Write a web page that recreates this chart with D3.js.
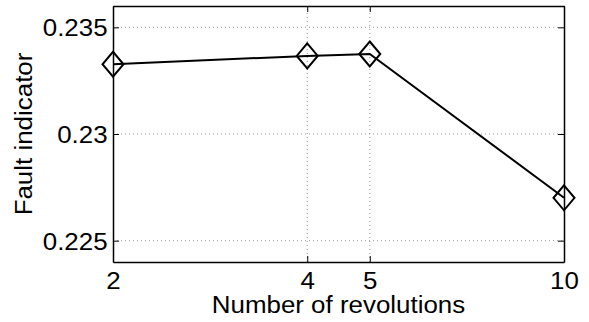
<!DOCTYPE html>
<html>
<head>
<meta charset="utf-8">
<script src="https://cdn.jsdelivr.net/npm/d3@7"></script>
<style>
body { margin: 0; background: #fff; }
text { font-family: "Liberation Sans", Arial, sans-serif; fill: #000; }
</style>
</head>
<body>
<div id="chart"></div>
<script>
var revolutions = [2, 4, 5, 10];
var faultIndicator = [0.23327, 0.23366, 0.23375, 0.22701];
var xTicks = [2, 4, 5, 10];
var yTicks = [0.225, 0.23, 0.235];

var width = 589, height = 322;
var margin = {top: 6, right: 25, bottom: 60, left: 113};
var fs = 24, sx = 1.08;

var svg = d3.select("#chart").append("svg")
  .attr("width", width)
  .attr("height", height);

var x = d3.scaleLog().domain([2, 10]).range([margin.left, width - margin.right]);
var y = d3.scaleLinear().domain([0.224, 0.236]).range([height - margin.bottom, margin.top]);

var x0 = x.range()[0], x1 = x.range()[1], y0 = y.range()[0], y1 = y.range()[1];

// grid
svg.append("g").selectAll("line").data(yTicks).enter().append("line")
  .attr("x1", x0).attr("x2", x1)
  .attr("y1", function(d){ return y(d); }).attr("y2", function(d){ return y(d); })
  .attr("stroke", "#999").attr("stroke-width", 1).attr("stroke-dasharray", "1,3");
svg.append("g").selectAll("line").data(xTicks.slice(1, -1)).enter().append("line")
  .attr("y1", y0).attr("y2", y1)
  .attr("x1", function(d){ return x(d); }).attr("x2", function(d){ return x(d); })
  .attr("stroke", "#999").attr("stroke-width", 1).attr("stroke-dasharray", "1,3");

// axes, inward ticks on all four sides
var tk = 6;
var ax = [
  {g: d3.axisBottom(x).tickValues(xTicks).tickFormat(d3.format("d")), t: "translate(0," + y0 + ")"},
  {g: d3.axisTop(x).tickValues(xTicks).tickFormat(""), t: "translate(0," + y1 + ")"},
  {g: d3.axisLeft(y).tickValues(yTicks).tickFormat(d3.format("")), t: "translate(" + x0 + ",0)"},
  {g: d3.axisRight(y).tickValues(yTicks).tickFormat(""), t: "translate(" + x1 + ",0)"}
];
ax.forEach(function(a, i) {
  var g = svg.append("g").attr("transform", a.t)
    .call(a.g.tickSizeInner(-tk).tickSizeOuter(0).tickPadding(tk + 6));
  g.select(".domain").attr("stroke", "#000").attr("stroke-width", 1.5);
  g.selectAll(".tick line").attr("stroke", "#000").attr("stroke-width", 1);
  g.selectAll("text").attr("font-size", fs).attr("font-family", null);
  if (i === 0) {
    g.selectAll(".tick text").attr("y", 10).attr("dy", "0.72em")
      .attr("transform", "scale(" + sx + ",1)");
  }
  if (i === 2) {
    g.selectAll(".tick text").attr("x", -5).attr("dy", "0.36em")
      .attr("transform", "scale(" + sx + ",1)");
  }
});

// axis labels
svg.append("text")
  .attr("transform", "translate(" + ((x0 + x1) / 2) + "," + 313 + ") scale(" + sx + ",1)")
  .attr("text-anchor", "middle").attr("font-size", fs)
  .text("Number of revolutions");
svg.append("text")
  .attr("transform", "translate(32," + ((y0 + y1) / 2) + ") rotate(-90) scale(" + sx + ",1)")
  .attr("text-anchor", "middle").attr("font-size", fs)
  .text("Fault indicator");

// series
var pts = revolutions.map(function(r, i){ return [r, faultIndicator[i]]; });
svg.append("path").datum(pts)
  .attr("fill", "none").attr("stroke", "#000").attr("stroke-width", 2)
  .attr("d", d3.line().x(function(d){ return x(d[0]); }).y(function(d){ return y(d[1]); }));

svg.append("g").selectAll("path").data(pts).enter().append("path")
  .attr("transform", function(d){ return "translate(" + x(d[0]) + "," + y(d[1]) + ")"; })
  .attr("d", "M0,-12.5L10.5,0L0,12.5L-10.5,0Z")
  .attr("fill", "none").attr("stroke", "#000").attr("stroke-width", 2);
</script>
</body>
</html>
